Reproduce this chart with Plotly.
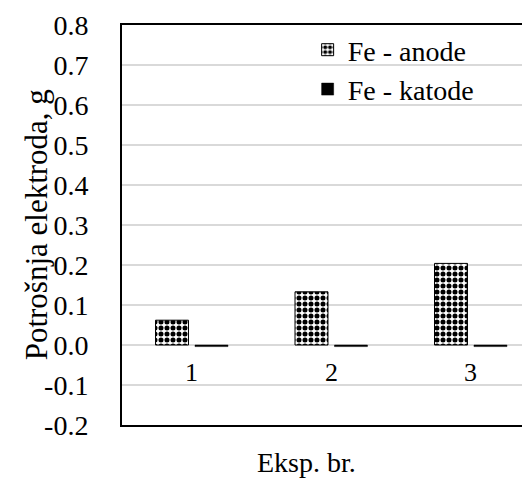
import plotly.graph_objects as go

categories = ["1", "2", "3"]
anode = [0.062, 0.133, 0.204]
katode = [-0.004, -0.004, -0.004]
y_ticks = [0.8, 0.7, 0.6, 0.5, 0.4, 0.3, 0.2, 0.1, 0.0, -0.1, -0.2]
y_tick_labels = ["0.8", "0.7", "0.6", "0.5", "0.4", "0.3", "0.2", "0.1", "0.0", "-0.1", "-0.2"]

FONT = "Liberation Serif"

fig = go.Figure()
fig.add_trace(go.Bar(
    x=categories, y=anode, name="Fe - anode",
    marker=dict(color="white",
                line=dict(color="black", width=1),
                pattern=dict(shape=".", size=6, solidity=0.55,
                             fgcolor="black", bgcolor="white", fillmode="replace")),
))
fig.add_trace(go.Bar(
    x=categories, y=katode, name="Fe - katode",
    marker=dict(color="black", line=dict(color="black", width=0.5)),
))

for i, c in enumerate(categories):
    fig.add_annotation(x=i, y=0, xref="x", yref="y", text=c, showarrow=False,
                       yanchor="middle", yshift=-27,
                       font=dict(family=FONT, size=26, color="black"))

fig.add_annotation(x=-0.21, y=0.5, xref="paper", yref="paper",
                   text="Potrošnja elektroda, g", textangle=-90, showarrow=False,
                   xanchor="center", yanchor="middle",
                   font=dict(family=FONT, size=31, color="black"))
fig.add_annotation(x=0.451, y=-0.0925, xref="paper", yref="paper",
                   text="Eksp. br.", showarrow=False,
                   xanchor="center", yanchor="middle",
                   font=dict(family=FONT, size=28, color="black"))

fig.update_layout(
    width=530, height=479,
    margin=dict(l=114, r=8, t=17, b=62, autoexpand=False),
    paper_bgcolor="white", plot_bgcolor="white",
    barmode="group", bargap=0.434, bargroupgap=0.165,
    font=dict(family=FONT, size=28, color="black"),
    legend=dict(x=0.455, y=1.0, xanchor="left", yanchor="top",
                bgcolor="rgba(0,0,0,0)", font=dict(family=FONT, size=28, color="black"),
                tracegroupgap=0, itemwidth=30),
    xaxis=dict(type="category", range=[-0.5, 2.425], showticklabels=False, showgrid=False,
               showline=True, linecolor="black", linewidth=2, mirror=True,
               ticks="", zeroline=False),
    yaxis=dict(range=[-0.2, 0.8], tickvals=y_ticks, ticktext=y_tick_labels,
               showgrid=True, gridcolor="#d9d9d9", gridwidth=1.5,
               zeroline=True, zerolinecolor="#d9d9d9", zerolinewidth=1.5,
               showline=True, linecolor="black", linewidth=2, mirror=False,
               ticks="", ticklabelstandoff=26,
               tickfont=dict(family=FONT, size=28, color="black")),
)

fig.write_html("out.html")
